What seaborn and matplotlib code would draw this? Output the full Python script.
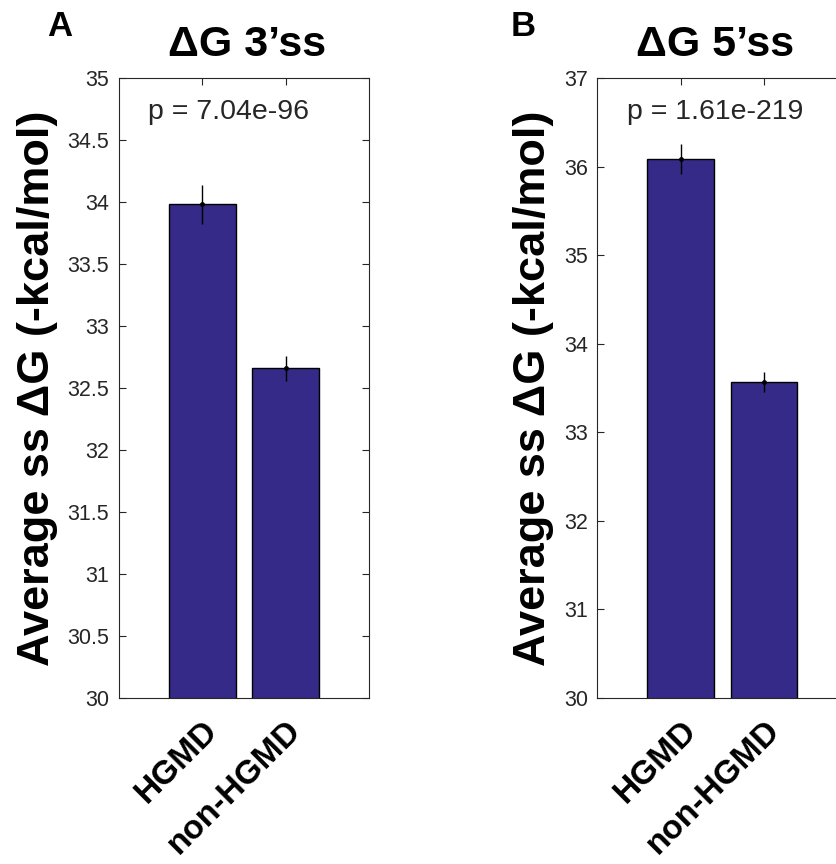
import matplotlib
matplotlib.use("Agg")
import matplotlib.pyplot as plt
import seaborn as sns
import numpy as np
import pandas as pd

groups = ["HGMD", "non-HGMD"]
dg3_mean = [33.98, 32.66]
dg3_err = [0.16, 0.10]
dg5_mean = [36.09, 33.57]
dg5_err = [0.17, 0.11]
titles = ["ΔG 3’ss", "ΔG 5’ss"]
panel_letters = ["A", "B"]
pvals = ["p = 7.04e-96", "p = 1.61e-219"]
ylims = [(30, 35), (30, 37)]
yticks_list = [[30, 30.5, 31, 31.5, 32, 32.5, 33, 33.5, 34, 34.5, 35],
               [30, 31, 32, 33, 34, 35, 36, 37]]
ylabel = "Average ss ΔG (-kcal/mol)"

sns.set_style("white")
plt.rcParams['font.family'] = ['Liberation Sans', 'DejaVu Sans']

W, H = 837, 864
fig = plt.figure(figsize=(W / 100, H / 100), dpi=100)

bar_color = "#352A87"
dark = "#262626"

axes_px = [119, 597.5]
title_x = [0.512, 0.47]
letter_px = [47, 511]
means = [dg3_mean, dg5_mean]
errs = [dg3_err, dg5_err]

for i in range(2):
    left = axes_px[i]
    ax = fig.add_axes([left / W, (H - 698) / H, 250 / W, 620 / H])
    df = pd.DataFrame({"group": groups, "value": means[i]})
    sns.barplot(data=df, x="group", y="value", ax=ax, color=bar_color,
                saturation=1, width=0.8, edgecolor="black", linewidth=1.0,
                errorbar=None)
    xs = np.arange(len(groups))
    ax.errorbar(xs, means[i], yerr=errs[i], fmt="o", color="black",
                markersize=2.5, elinewidth=1.0, capsize=0)
    ax.set_xlim(-1, 2)
    ax.set_ylim(*ylims[i])
    ax.set_yticks(yticks_list[i])
    ax.set_yticklabels([f"{t:g}" for t in yticks_list[i]])
    ax.set_xticks(xs)
    ax.set_xticklabels(groups, rotation=45, ha="right", va="top",
                       rotation_mode="anchor", fontsize=24, fontweight="bold",
                       color="black")
    ax.tick_params(axis="y", labelsize=15.5, labelcolor=dark, direction="in",
                   length=5, width=0.8, color=dark, right=True, left=True, pad=7)
    ax.tick_params(axis="x", direction="in", length=5, width=0.8, color=dark,
                   top=True, bottom=True, pad=12)
    for s in ax.spines.values():
        s.set_visible(True)
        s.set_color(dark)
        s.set_linewidth(0.8)
    ax.set_xlabel("")
    ax.set_ylabel(ylabel, fontsize=32.5, fontweight="bold", labelpad=7, color="black")
    ax.set_title(titles[i], fontsize=31, fontweight="bold", pad=16, color="black",
                 x=title_x[i])
    ytop = ylims[i][1] - (ylims[i][1] - ylims[i][0]) * 34 / 620
    ax.text(-0.65, ytop, pvals[i], fontsize=20.5, color=dark, ha="left", va="center")
    fig.text(letter_px[i] / W, 1 - 26 / H, panel_letters[i], fontsize=25,
             fontweight="bold", ha="left", va="center", color="black")

fig.savefig("out.png", dpi=100)
